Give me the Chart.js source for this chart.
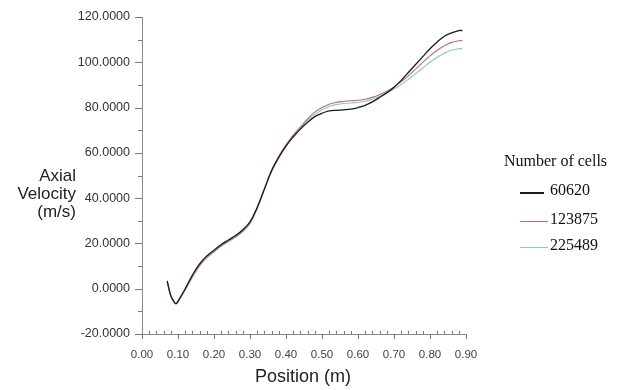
<!DOCTYPE html>
<html>
<head>
<meta charset="utf-8">
<script src="https://cdn.jsdelivr.net/npm/chart.js@4"></script>
<style>
  body { margin: 0; background: #fff; }
  #wrap { position: relative; width: 617px; height: 390px; }
  #c { position: absolute; left: 0; top: 0; }
  .lbl { position: absolute; font-family: Arial, "Liberation Sans", sans-serif; color: #222; }
  #ytitle { left: 0px; top: 167px; width: 76px; text-align: right; font-size: 17px; line-height: 18px; }
  #xtitle { left: 203px; top: 366px; width: 200px; text-align: center; font-size: 18px; }
  #legend { position: absolute; left: 504px; top: 152px; font-family: "Liberation Serif", "Times New Roman", serif; font-size: 16px; color: #111; }
  .item { position: absolute; white-space: nowrap; }
  .swatch { position: absolute; height: 0; }
</style>
</head>
<body>
<div id="wrap">
  <canvas id="c" width="617" height="390"></canvas>
  <div id="ytitle" class="lbl">Axial<br>Velocity<br>(m/s)</div>
  <div id="xtitle" class="lbl">Position (m)</div>
  <div id="legend"></div>
</div>
<script>
// position (m)
const positions = [0.07, 0.08, 0.09, 0.095, 0.10, 0.12, 0.14, 0.16, 0.18, 0.20, 0.22, 0.24, 0.26, 0.28, 0.30,
                   0.32, 0.34, 0.36, 0.38, 0.40, 0.42, 0.44, 0.46, 0.48, 0.50, 0.52, 0.54, 0.56, 0.58, 0.60,
                   0.62, 0.64, 0.66, 0.68, 0.70, 0.72, 0.74, 0.76, 0.78, 0.80, 0.82, 0.84, 0.86, 0.88, 0.89];

const cells60620 = [3.5, -3, -6, -6.5, -5.5, 0, 6, 11, 14.5, 17, 19.5, 21.5, 23.5, 26, 29.5,
                    36, 44, 52, 58, 63, 67, 70.5, 73.5, 76, 77.5, 78.5, 78.8, 79, 79.3, 80,
                    81, 82.5, 84.5, 86.5, 89, 92, 95.5, 99, 102.5, 106, 109, 111.5, 113, 114, 114];
const cells123875 = [3, -3.2, -6.2, -6.6, -5.7, -0.4, 5.4, 10.4, 14, 16.5, 19, 21, 23, 25.5, 29,
                     35.5, 44, 52.5, 58.5, 63.5, 67.8, 71.5, 75, 78, 80, 81.5, 82.3, 82.7, 83, 83.2,
                     83.7, 84.5, 85.7, 87.2, 89, 91.5, 94, 97, 100, 102.8, 105.3, 107.3, 108.8, 109.5, 109.6];
const cells225489 = [2.8, -3.4, -6.3, -6.7, -5.8, -0.6, 5, 10, 13.6, 16.2, 18.7, 20.8, 22.7, 25.2, 28.7,
                     35.3, 44, 52.3, 58.3, 63.3, 67.5, 71, 74.5, 77, 79, 80.5, 81.3, 81.8, 82, 82.3,
                     82.8, 83.7, 85, 86.5, 88.2, 90.2, 92.5, 95, 97.5, 100, 102.2, 104, 105.3, 106, 106];

const seriesNames = ['60620', '123875', '225489'];
const seriesColors = ['#1a1a1a', '#c46a6a', '#86c6d6'];
const seriesValues = [cells60620, cells123875, cells225489];

const yTicks = [-20, 0, 20, 40, 60, 80, 100, 120];
const xTicks = [0.0, 0.1, 0.2, 0.3, 0.4, 0.5, 0.6, 0.7, 0.8, 0.9];

// legend (HTML, built from the series arrays)
const legend = document.getElementById('legend');
legend.innerHTML = '<div class="item" style="left:0;top:0">Number of cells</div>';
const legendY = [40, 69, 95];
seriesNames.forEach((n, i) => {
    const w = i === 0 ? 24 : 28;
    legend.innerHTML += '<div class="swatch" style="left:16px;top:' + legendY[i] + 'px;width:' + w + 'px;border-top:' + (i === 0 ? 2 : 1.5) + 'px solid ' + seriesColors[i] + '"></div>' +
        '<div class="item" style="left:' + (w + 18 + (i === 0 ? 4 : 0)) + 'px;top:' + (legendY[i] - 11) + 'px">' + n + '</div>';
});

// tick marks (major + minor), drawn from the scales
const tickPlugin = {
    id: 'tickMarks',
    afterDraw(chart) {
        const ctx = chart.ctx;
        const xs = chart.scales.x, ys = chart.scales.y;
        ctx.save();
        ctx.strokeStyle = '#777';
        ctx.lineWidth = 1;
        for (let v = -20; v <= 120; v += 10) {
            const py = Math.round(ys.getPixelForValue(v)) + 0.5;
            const len = v % 20 === 0 ? 7 : 4;
            ctx.beginPath();
            ctx.moveTo(xs.left - len, py);
            ctx.lineTo(xs.left, py);
            ctx.stroke();
        }
        for (let k = 0; k <= 45; k++) {
            const px = Math.round(xs.getPixelForValue(k * 0.02)) + 0.5;
            const major = k % 5 === 0;
            ctx.beginPath();
            ctx.moveTo(px, ys.bottom + (major ? 5 : 0));
            ctx.lineTo(px, ys.bottom - (major ? 0 : 3));
            ctx.stroke();
        }
        ctx.restore();
    }
};

new Chart(document.getElementById('c'), {
    type: 'line',
    data: {
        datasets: seriesNames.map((n, i) => ({
            label: n,
            data: positions.map((p, j) => ({ x: p, y: seriesValues[i][j] })),
            borderColor: seriesColors[i],
            borderWidth: i === 0 ? 1.3 : 1.1,
            pointRadius: 0,
            tension: 0.4,
            fill: false
        }))
    },
    options: {
        responsive: false,
        animation: false,
        layout: { padding: { left: 0, right: 151, top: 17, bottom: 0 } },
        plugins: { legend: { display: false }, tooltip: { enabled: false } },
        scales: {
            x: {
                type: 'linear',
                min: 0, max: 0.9,
                afterBuildTicks: (s) => { s.ticks = xTicks.map(v => ({ value: v })); },
                afterFit: (s) => { s.height = 56; },
                grid: { display: false },
                border: { display: true, color: '#888', width: 1 },
                ticks: {
                    padding: 6,
                    color: '#444',
                    maxRotation: 0,
                    autoSkip: false,
                    font: { family: 'Arial, "Liberation Sans", sans-serif', size: 11.5 },
                    callback: (v) => Number(v).toFixed(2)
                }
            },
            y: {
                min: -20, max: 120,
                afterBuildTicks: (s) => { s.ticks = yTicks.map(v => ({ value: v })); },
                afterFit: (s) => { s.width = 142; },
                grid: { display: false },
                border: { display: true, color: '#888', width: 1 },
                ticks: {
                    padding: 4,
                    color: '#333',
                    font: { family: 'Arial, "Liberation Sans", sans-serif', size: 12.5 },
                    callback: (v) => Number(v).toFixed(4)
                }
            }
        }
    },
    plugins: [tickPlugin]
});
</script>
</body>
</html>
